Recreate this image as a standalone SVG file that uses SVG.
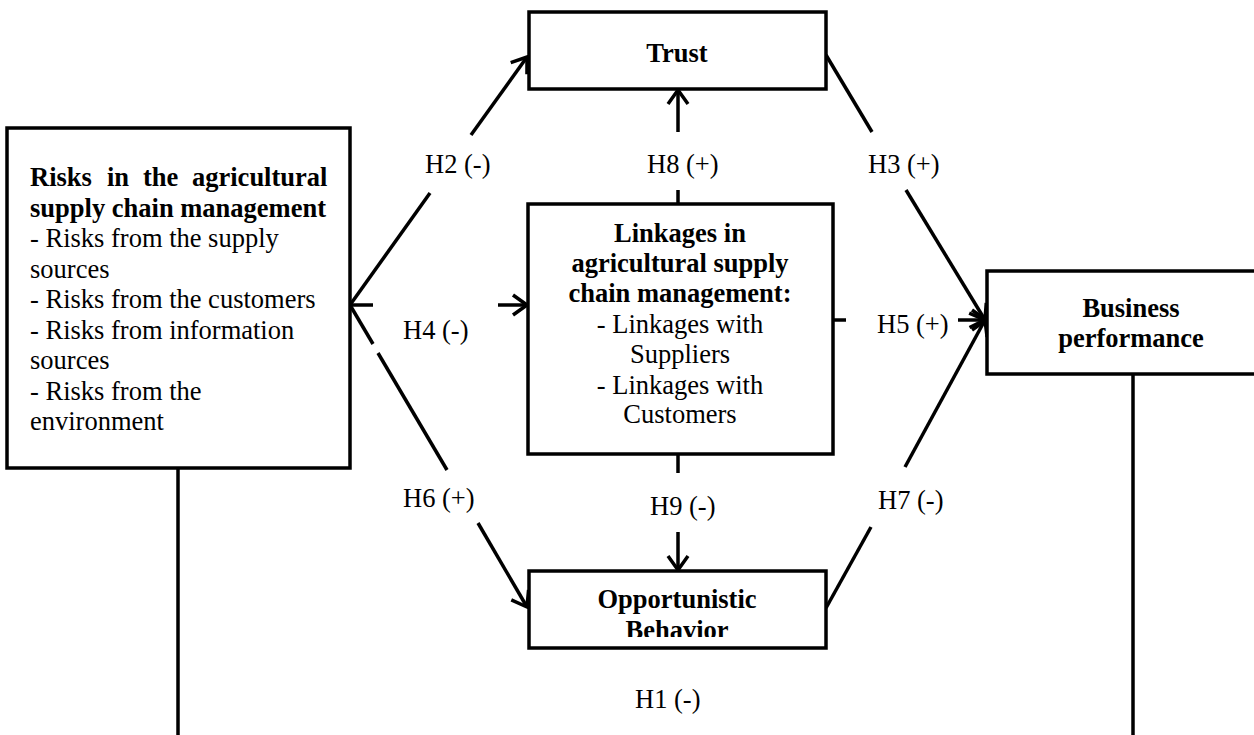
<svg xmlns="http://www.w3.org/2000/svg" width="1254" height="735" viewBox="0 0 1254 735">
<style>
.box{fill:#fff;stroke:#000;stroke-width:3.5}
.ln{stroke:#000;stroke-width:3.5;fill:none}
text{font-family:"Liberation Serif","Times New Roman",serif;font-size:26.5px;fill:#000}
.b{font-weight:bold}
.c{text-anchor:middle}
</style>
<defs>
<marker id="arr" markerUnits="userSpaceOnUse" markerWidth="20" markerHeight="24" viewBox="0 0 20 24" refX="18" refY="12" orient="auto">
<path d="M4,2 L18,12 L4,22" fill="none" stroke="#000" stroke-width="3.5"/>
</marker>
<clipPath id="oppClip"><rect x="529" y="571" width="297" height="66"/></clipPath>
</defs>
<rect width="1254" height="735" fill="#fff"/>
<g id="connectors">
<line class="ln" x1="178" y1="468" x2="178" y2="735"/>
<line class="ln" x1="1133" y1="374" x2="1133" y2="735"/>
<line class="ln" x1="350" y1="305" x2="430" y2="193"/>
<line class="ln" x1="471" y1="135" x2="527" y2="57" marker-end="url(#arr)"/>
<line class="ln" x1="350" y1="305" x2="373" y2="305"/>
<line class="ln" x1="498" y1="305" x2="527" y2="305" marker-end="url(#arr)"/>
<line class="ln" x1="350" y1="305" x2="373" y2="344"/>
<line class="ln" x1="378" y1="353" x2="447" y2="470"/>
<line class="ln" x1="478" y1="523" x2="527" y2="607" marker-end="url(#arr)"/>
<line class="ln" x1="678" y1="204" x2="678" y2="190"/>
<line class="ln" x1="678" y1="132" x2="678" y2="90" marker-end="url(#arr)"/>
<line class="ln" x1="826" y1="55" x2="872" y2="132"/>
<line class="ln" x1="906" y1="190" x2="985" y2="320" marker-end="url(#arr)"/>
<line class="ln" x1="833" y1="320" x2="846" y2="320"/>
<line class="ln" x1="958" y1="320" x2="986" y2="320" marker-end="url(#arr)"/>
<line class="ln" x1="826" y1="608" x2="871" y2="527"/>
<line class="ln" x1="905" y1="467" x2="985" y2="320" marker-end="url(#arr)"/>
<line class="ln" x1="678" y1="454" x2="678" y2="473"/>
<line class="ln" x1="678" y1="532" x2="678" y2="570" marker-end="url(#arr)"/>
<text x="425" y="173">H2 (-)</text>
<text x="647" y="173">H8 (+)</text>
<text x="868" y="173">H3 (+)</text>
<text x="403" y="339">H4 (-)</text>
<text x="877" y="333">H5 (+)</text>
<text x="403" y="507">H6 (+)</text>
<text x="650" y="515">H9 (-)</text>
<text x="878" y="509">H7 (-)</text>
<text x="635" y="708">H1 (-)</text>
</g>
<g id="risks">
<rect class="box" x="7" y="128" width="343" height="340"/>
<text class="b" y="186"><tspan x="30">Risks</tspan> <tspan x="107">in</tspan> <tspan x="143">the</tspan> <tspan x="192">agricultural</tspan></text>
<text class="b" x="30" y="216.5">supply chain management</text>
<text x="30" y="247">- Risks from the supply</text>
<text x="30" y="277.5">sources</text>
<text x="30" y="308">- Risks from the customers</text>
<text x="30" y="338.5">- Risks from information</text>
<text x="30" y="369">sources</text>
<text x="30" y="399.5">- Risks from the</text>
<text x="30" y="430">environment</text>
</g>
<g id="trust">
<rect class="box" x="529" y="12" width="297" height="77"/>
<text class="b c" x="677" y="62">Trust</text>
</g>
<g id="linkages">
<rect class="box" x="528" y="204" width="305" height="250"/>
<text class="b c" x="680" y="242">Linkages in</text>
<text class="b c" x="680" y="272">agricultural supply</text>
<text class="b c" x="680" y="302">chain management:</text>
<text class="c" x="680" y="333">- Linkages with</text>
<text class="c" x="680" y="363">Suppliers</text>
<text class="c" x="680" y="394">- Linkages with</text>
<text class="c" x="680" y="423">Customers</text>
</g>
<g id="business">
<rect class="box" x="987" y="271" width="290" height="103"/>
<text class="b c" x="1131" y="317">Business</text>
<text class="b c" x="1131" y="347">performance</text>
</g>
<g id="opportunistic">
<rect class="box" x="529" y="571" width="297" height="77"/>
<text class="b c" x="677" y="608">Opportunistic</text>
<text class="b c" x="677" y="639" clip-path="url(#oppClip)">Behavior</text>
</g>
</svg>
